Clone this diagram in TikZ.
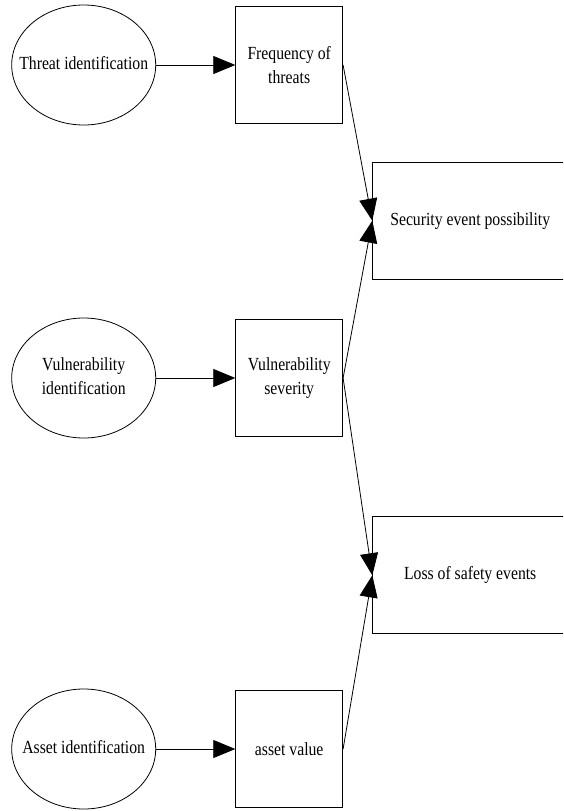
\documentclass[tikz,border=0pt]{standalone}
\usepackage{fontspec}
\setmainfont{Liberation Serif}[FakeStretch=0.85]
\usetikzlibrary{shapes.geometric,arrows.meta}

% text of fixed-size ellipses, kept out of the shape's size
\newcommand{\ovaltext}[1]{\makebox[0pt]{\begin{tabular}{@{}c@{}}#1\end{tabular}}}

\tikzset{
  source/.style={draw, ellipse, line width=0.8pt, minimum width=144pt, minimum height=120pt,
                 inner sep=0pt},
  measure/.style={draw, rectangle, line width=0.8pt, minimum width=107pt, minimum height=117pt,
                  inner sep=0pt, align=center},
  result/.style={draw, rectangle, line width=0.8pt, minimum width=195pt, minimum height=117pt,
                 inner sep=0pt, align=center, anchor=west},
  flow/.style={line width=0.8pt, -{Triangle[length=22pt,width=18pt]}}
}

\begin{document}
\begin{tikzpicture}[x=1pt, y=-1pt, font=\fontsize{18.5}{24}\selectfont]
  \clip (0,0) rectangle (563,811);
  \fill[white] (0,0) rectangle (563,811);
  \renewcommand{\arraystretch}{1.0}

  % identification steps
  \node[source] (threat) at (83.7,65)  {\ovaltext{Threat identification}};
  \node[source] (vuln)   at (83.7,378) {\ovaltext{Vulnerability\\identification}};
  \node[source] (asset)  at (83.7,749) {\ovaltext{Asset identification}};

  % measured quantities
  \node[measure] (freq)  at (289.2,65)  {Frequency of\\threats};
  \node[measure] (sev)   at (289.2,378) {Vulnerability\\severity};
  \node[measure] (value) at (289.2,749) {asset value};

  % combined results
  \node[result] (poss) at (372.3,220.7) {Security event possibility};
  \node[result] (loss) at (372.3,575.3) {Loss of safety events};

  % connectors
  \draw[flow] (threat.east) -- (freq.west);
  \draw[flow] (vuln.east)   -- (sev.west);
  \draw[flow] (asset.east)  -- (value.west);

  \draw[flow] (freq.east)  -- (poss.west);
  \draw[flow] (sev.east)   -- (poss.west);
  \draw[flow] (sev.east)   -- (loss.west);
  \draw[flow] (value.east) -- (loss.west);
\end{tikzpicture}
\end{document}
